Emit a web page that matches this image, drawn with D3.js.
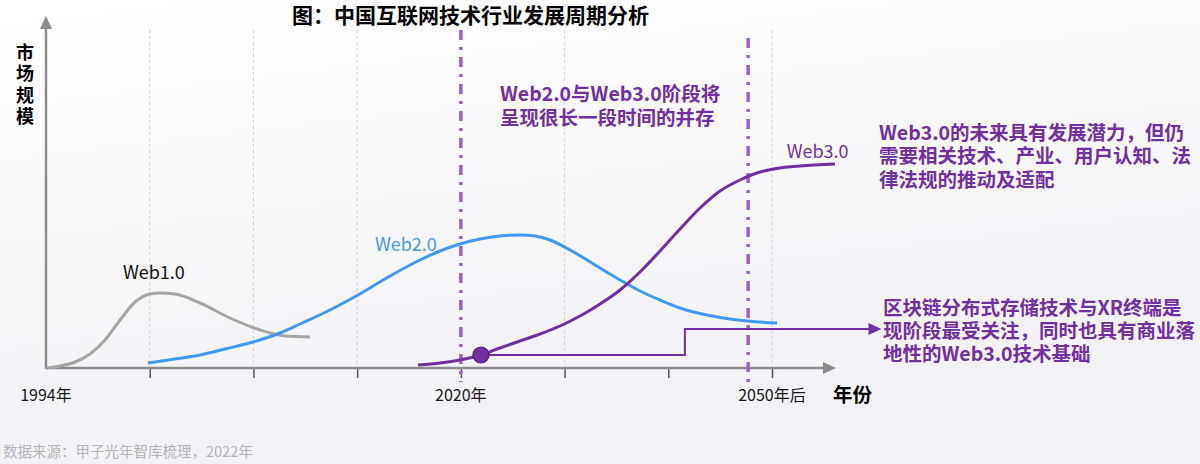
<!DOCTYPE html>
<html><head><meta charset="utf-8">
<script src="https://cdn.jsdelivr.net/npm/d3@7/dist/d3.min.js"></script>
<style>
html,body{margin:0;padding:0;background:#fff;}
svg{display:block;}
text{font-family:"Noto Sans CJK SC","Noto Sans",sans-serif;}
</style></head>
<body>
<svg id="chart" width="1200" height="464"></svg>
<script>
// ---- data (x in period index units, v = relative market size) ----
const tickLabels = ["1994年","","","","2020年","","","2050年后"];
const gridIdx = [1,2,3,5,7];
const phaseIdx = [4, 6.77];
const web1X = [0,0.135,0.280,0.424,0.569,0.714,0.858,1.003,1.099,1.244,1.485,1.774,2.063,2.304,2.546];
const web1V = [0,2,6,14,28,48,66,74,75,74,65,50,38,32,31];
const web2X = [0.983,1.244,1.485,1.726,1.996,2.256,2.449,2.738,3.008,3.317,3.606,3.799,3.992,4.185,4.377,4.570,4.715,4.860,5.053,5.342,5.535,5.727,5.920,6.113,6.373,6.595,6.759,7.048];
const web2V = [5,9,13,19,26,35,44,58,73,92,108,117,124,129,132,133,132,128,118,100,88,77,68,60,53,49,47,45];
const web3X = [3.587,3.799,3.992,4.194,4.377,4.570,4.763,4.956,5.149,5.342,5.535,5.727,5.920,6.113,6.306,6.499,6.691,6.884,7.077,7.270,7.607];
const web3V = [3,5,8,13,20,27,34,42,52,64,78,96,117,139,160,177,188,196,200,202,204];
const markerPt = {x:4.194, v:13};
const connector = [{x:4.194,v:13},{x:6.16,v:13},{x:6.16,v:39},{x:7.94,v:39}];
const seriesNames = ["Web1.0","Web2.0","Web3.0"];
const seriesLabelPos = [{x:1.04,v:89},{x:3.47,v:117},{x:7.44,v:210}];
const title = "图：中国互联网技术行业发展周期分析";
const yTitle = ["市","场","规","模"];
const xTitle = "年份";
const note1 = ["Web2.0与Web3.0阶段将","呈现很长一段时间的并存"];
const note2 = ["Web3.0的未来具有发展潜力，但仍","需要相关技术、产业、用户认知、法","律法规的推动及适配"];
const note3 = ["区块链分布式存储技术与XR终端是","现阶段最受关注，同时也具有商业落","地性的Web3.0技术基础"];
const source = "数据来源：甲子光年智库梳理，2022年";

const colors = {web1:"#a5a5a5", web2:"#4398f0", web3:"#7030a0", phase:"#9b62c4", axis:"#8c8c8c"};

const svg = d3.select("#chart");
const defs = svg.append("defs");
const grad = defs.append("linearGradient").attr("id","bg").attr("x1",0).attr("y1",0).attr("x2",0.3).attr("y2",1);
grad.append("stop").attr("offset","0%").attr("stop-color","#ffffff");
grad.append("stop").attr("offset","100%").attr("stop-color","#f1f1f6");
svg.append("rect").attr("width",1200).attr("height",464).attr("fill","url(#bg)");

const x = d3.scaleLinear().domain([0,7]).range([46,772]);
const y = d3.scaleLinear().domain([0,340]).range([368,28]);

// grid lines
svg.append("g").selectAll("line").data(gridIdx).join("line")
  .attr("x1",d=>x(d)).attr("x2",d=>x(d)).attr("y1",y(338)).attr("y2",y(0))
  .attr("stroke","#cfcfcf").attr("stroke-width",1).attr("stroke-dasharray","3,3");

// x axis
const xAxis = d3.axisBottom(x).tickValues(d3.range(1,8)).tickSize(10).tickFormat("");
const gx = svg.append("g").attr("transform",`translate(0,${y(0)})`).call(xAxis);
gx.select(".domain").remove();
gx.selectAll(".tick line").attr("stroke","#555").attr("stroke-width",1.5);

svg.append("line").attr("x1",x(0)).attr("x2",826).attr("y1",y(0)).attr("y2",y(0))
  .attr("stroke",colors.axis).attr("stroke-width",2.5);
svg.append("path").attr("d",`M836,${y(0)} L823,${y(0)-6} L823,${y(0)+6}Z`).attr("fill",colors.axis);
svg.append("line").attr("x1",x(0)).attr("x2",x(0)).attr("y1",y(0)+1).attr("y2",28)
  .attr("stroke",colors.axis).attr("stroke-width",2.5);
svg.append("path").attr("d",`M${x(0)},16 L${x(0)-6},29 L${x(0)+6},29Z`).attr("fill",colors.axis);

// tick labels
svg.append("g").selectAll("text").data(tickLabels.map((t,i)=>({t,i})).filter(d=>d.t)).join("text")
  .attr("x",d=>x(d.i)).attr("y",401).attr("text-anchor","middle")
  .attr("font-size",16).attr("fill","#1a1a1a").text(d=>d.t);

// phase lines
svg.append("g").selectAll("line").data(phaseIdx).join("line")
  .attr("x1",d=>x(d)).attr("x2",d=>x(d)).attr("y1",(d,i)=>i===0?30:38).attr("y2",382)
  .attr("stroke",colors.phase).attr("stroke-width",3.5).attr("stroke-dasharray","10,7,3,7");

const line = d3.line().x(d=>x(d[0])).y(d=>y(d[1])).curve(d3.curveMonotoneX);
const zip = (a,b)=>a.map((v,i)=>[v,b[i]]);
svg.append("path").attr("d",line(zip(web1X,web1V))).attr("fill","none").attr("stroke",colors.web1).attr("stroke-width",3);
svg.append("path").attr("d",line(zip(web2X,web2V))).attr("fill","none").attr("stroke",colors.web2).attr("stroke-width",3);
svg.append("path").attr("d",line(zip(web3X,web3V))).attr("fill","none").attr("stroke",colors.web3).attr("stroke-width",3);

// connector
const conn = d3.line().x(d=>x(d.x)).y(d=>y(d.v));
svg.append("path").attr("d",conn(connector)).attr("fill","none").attr("stroke",colors.web3).attr("stroke-width",2);
const last = connector[connector.length-1];
svg.append("path").attr("d",`M${x(last.x)+12},${y(last.v)} L${x(last.x)-1},${y(last.v)-6} L${x(last.x)-1},${y(last.v)+6}Z`).attr("fill",colors.web3);

svg.append("circle").attr("cx",x(markerPt.x)).attr("cy",y(markerPt.v)).attr("r",8)
  .attr("fill","#7030a0").attr("stroke","#4e1f73").attr("stroke-width",1.2);

// series labels
const labColors = ["#111", colors.web2, colors.web3];
svg.append("g").selectAll("text").data(seriesNames).join("text")
  .attr("x",(d,i)=>x(seriesLabelPos[i].x)).attr("y",(d,i)=>y(seriesLabelPos[i].v))
  .attr("text-anchor","middle").attr("font-size",18).attr("fill",(d,i)=>labColors[i]).text(d=>d);

// titles
svg.append("text").attr("x",292).attr("y",23).attr("font-size",21).attr("font-weight","bold").attr("fill","#000").text(title);
svg.append("g").selectAll("text").data(yTitle).join("text")
  .attr("x",25).attr("y",(d,i)=>59+i*21.3).attr("text-anchor","middle")
  .attr("font-size",18).attr("font-weight","bold").attr("fill","#000").text(d=>d);
svg.append("text").attr("x",833).attr("y",402).attr("font-size",19.5).attr("font-weight","bold").attr("fill","#000").text(xTitle);

function note(lines, x0, y0, dy){
  svg.append("g").selectAll("text").data(lines).join("text")
    .attr("x",x0).attr("y",(d,i)=>y0+i*dy).attr("font-size",19.5).attr("font-weight","bold")
    .attr("fill","#7030a0").text(d=>d);
}
note(note1, 500, 100.5, 24);
note(note2, 879, 139.5, 23.5);
note(note3, 883, 315, 23);

svg.append("text").attr("x",3).attr("y",457).attr("font-size",14.5).attr("fill","#b3b3b3").text(source);
</script>
</body></html>
